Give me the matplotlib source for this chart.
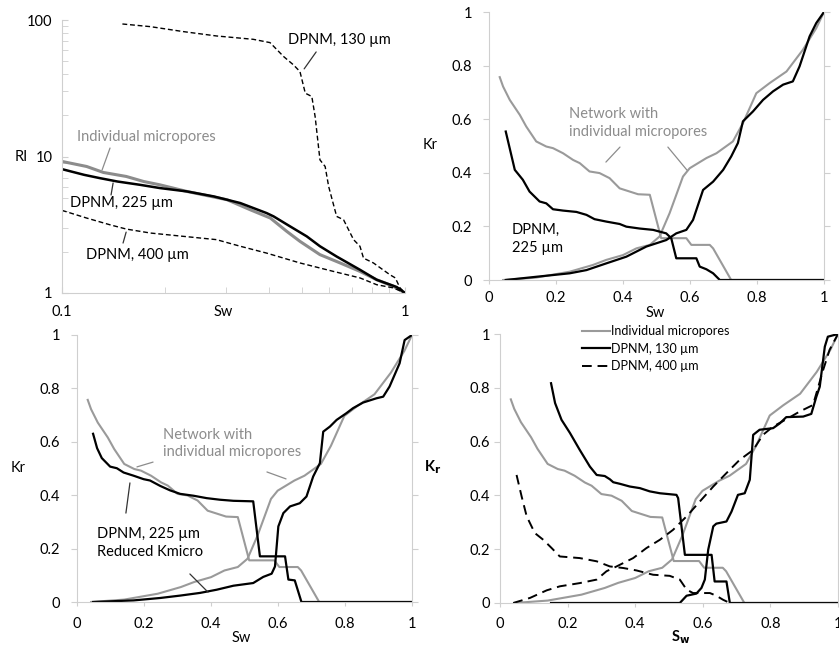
import numpy as np
import matplotlib.pyplot as plt
from matplotlib.ticker import FuncFormatter, LogLocator, NullFormatter

plt.rcParams['font.family'] = ['Lato', 'DejaVu Sans']
plt.rcParams['font.size'] = 10.5

GRAY = "#9a9a9a"
TXT_GRAY = "#8c8c8c"
SPINE = "#cfcfcf"

# ---- panel 1: resistivity index (log-log) ----
ri_sw_micro = [0.1, 0.118, 0.132, 0.154, 0.173, 0.193, 0.231, 0.303, 0.354, 0.405, 0.452, 0.494, 0.565, 0.647, 0.739, 0.827, 0.925, 1.0]
ri_micro = [9.2, 8.45, 7.64, 7.14, 6.56, 6.2, 5.55, 4.82, 4.07, 3.54, 2.83, 2.39, 1.91, 1.66, 1.44, 1.25, 1.12, 1.0]

ri_sw_225 = [0.1, 0.116, 0.129, 0.145, 0.169, 0.193, 0.231, 0.277, 0.331, 0.395, 0.414, 0.463, 0.517, 0.565, 0.632, 0.739, 0.827, 0.946, 1.0]
ri_225 = [8.08, 7.34, 6.94, 6.56, 6.2, 5.87, 5.55, 5.1, 4.56, 3.85, 3.64, 3.07, 2.6, 2.2, 1.85, 1.48, 1.25, 1.106, 1.0]

ri_sw_400 = [0.1, 0.118, 0.138, 0.154, 0.181, 0.226, 0.282, 0.331, 0.395, 0.494, 0.618, 0.739, 0.827, 0.925, 1.0]
ri_400 = [4.03, 3.54, 3.16, 2.94, 2.75, 2.6, 2.46, 2.2, 1.96, 1.66, 1.44, 1.29, 1.15, 1.09, 1.0]

ri_sw_130 = [0.150, 0.181, 0.226, 0.282, 0.361, 0.404, 0.443, 0.473, 0.494, 0.512, 0.535, 0.547, 0.565, 0.585, 0.599, 0.632, 0.662, 0.708, 0.739, 0.757, 0.809, 0.904, 0.937, 0.967, 1.0]
ri_130 = [93.5, 89.4, 82.2, 76.4, 72.2, 68.3, 53.9, 46.9, 41.9, 29.1, 27.5, 19.6, 9.45, 8.45, 6.03, 3.64, 3.44, 2.46, 2.2, 1.8, 1.66, 1.36, 1.29, 1.09, 1.0]

# ---- individual micropores Kr (shared by panels 2-4) ----
kro_sw_micro = [0.032, 0.042, 0.062, 0.092, 0.111, 0.141, 0.171, 0.191, 0.221, 0.251, 0.271, 0.300, 0.330, 0.360, 0.390, 0.420, 0.445, 0.480, 0.514, 0.589, 0.604, 0.659, 0.669, 0.723, 1.0]
kro_micro = [0.757, 0.722, 0.672, 0.616, 0.573, 0.517, 0.498, 0.492, 0.473, 0.448, 0.436, 0.405, 0.399, 0.380, 0.342, 0.330, 0.320, 0.318, 0.156, 0.156, 0.131, 0.131, 0.118, 0.0, 0.0]
krw_sw_micro = [0.042, 0.141, 0.241, 0.310, 0.350, 0.400, 0.440, 0.480, 0.509, 0.539, 0.579, 0.599, 0.649, 0.679, 0.728, 0.758, 0.798, 0.838, 0.888, 0.937, 0.977, 1.0]
krw_micro = [0.0, 0.009, 0.031, 0.056, 0.075, 0.093, 0.118, 0.131, 0.162, 0.249, 0.386, 0.417, 0.455, 0.473, 0.517, 0.585, 0.697, 0.735, 0.778, 0.859, 0.940, 1.0]

# ---- panel 2: DPNM 225 um ----
kro_sw_225 = [0.050, 0.077, 0.101, 0.121, 0.151, 0.171, 0.191, 0.221, 0.261, 0.291, 0.315, 0.350, 0.390, 0.410, 0.450, 0.490, 0.529, 0.544, 0.559, 0.619, 0.629, 0.649, 0.669, 0.689, 1.0]
kro_225 = [0.554, 0.411, 0.374, 0.330, 0.293, 0.286, 0.264, 0.259, 0.254, 0.243, 0.227, 0.218, 0.209, 0.199, 0.192, 0.187, 0.174, 0.156, 0.081, 0.081, 0.050, 0.040, 0.025, 0.0, 0.0]
krw_sw_225 = [0.050, 0.141, 0.241, 0.291, 0.350, 0.410, 0.470, 0.529, 0.559, 0.589, 0.609, 0.639, 0.669, 0.699, 0.723, 0.743, 0.758, 0.788, 0.818, 0.848, 0.878, 0.907, 0.927, 0.957, 0.977, 1.0]
krw_225 = [0.0, 0.012, 0.025, 0.037, 0.062, 0.087, 0.125, 0.149, 0.174, 0.187, 0.224, 0.336, 0.367, 0.411, 0.461, 0.511, 0.592, 0.629, 0.672, 0.704, 0.729, 0.741, 0.797, 0.909, 0.959, 1.0]

# ---- panel 3: DPNM 225 um, reduced Kmicro ----
kro_sw_red = [0.048, 0.060, 0.074, 0.099, 0.119, 0.139, 0.169, 0.199, 0.218, 0.248, 0.278, 0.308, 0.348, 0.387, 0.427, 0.467, 0.526, 0.546, 0.621, 0.631, 0.650, 0.670, 1.0]
kro_red = [0.630, 0.576, 0.539, 0.507, 0.501, 0.485, 0.473, 0.460, 0.455, 0.435, 0.418, 0.405, 0.398, 0.389, 0.383, 0.379, 0.377, 0.171, 0.171, 0.084, 0.081, 0.0, 0.0]
krw_sw_red = [0.048, 0.169, 0.248, 0.308, 0.367, 0.417, 0.467, 0.526, 0.556, 0.581, 0.591, 0.601, 0.616, 0.636, 0.665, 0.685, 0.705, 0.725, 0.735, 0.755, 0.775, 0.804, 0.824, 0.854, 0.894, 0.914, 0.933, 0.963, 0.978, 1.0]
krw_red = [0.0, 0.006, 0.015, 0.024, 0.034, 0.046, 0.061, 0.071, 0.094, 0.106, 0.133, 0.283, 0.333, 0.358, 0.370, 0.395, 0.470, 0.520, 0.638, 0.657, 0.682, 0.707, 0.726, 0.747, 0.763, 0.769, 0.807, 0.894, 0.981, 1.0]

# ---- panel 4: DPNM 130 um and 400 um ----
kro_sw_130 = [0.151, 0.163, 0.182, 0.207, 0.236, 0.266, 0.286, 0.310, 0.325, 0.335, 0.355, 0.384, 0.414, 0.443, 0.473, 0.522, 0.527, 0.547, 0.626, 0.635, 0.670, 0.680, 1.0]
kro_130 = [0.817, 0.743, 0.681, 0.632, 0.569, 0.507, 0.476, 0.472, 0.460, 0.449, 0.443, 0.433, 0.427, 0.415, 0.408, 0.402, 0.390, 0.179, 0.179, 0.080, 0.080, 0.0, 0.0]
krw_sw_130 = [0.151, 0.532, 0.552, 0.581, 0.596, 0.606, 0.616, 0.631, 0.640, 0.670, 0.685, 0.704, 0.724, 0.739, 0.749, 0.768, 0.808, 0.828, 0.847, 0.897, 0.921, 0.936, 0.946, 0.961, 0.970, 1.0]
krw_130 = [0.0, 0.0, 0.027, 0.035, 0.056, 0.087, 0.198, 0.285, 0.295, 0.303, 0.340, 0.402, 0.408, 0.458, 0.625, 0.644, 0.650, 0.668, 0.691, 0.693, 0.703, 0.767, 0.804, 0.953, 0.990, 1.0]

kro_sw_400 = [0.049, 0.064, 0.079, 0.103, 0.128, 0.153, 0.177, 0.236, 0.286, 0.325, 0.365, 0.404, 0.453, 0.502, 0.532, 0.552, 0.571, 0.621, 0.640, 0.660, 0.680]
kro_400 = [0.476, 0.396, 0.322, 0.260, 0.235, 0.204, 0.173, 0.167, 0.155, 0.136, 0.130, 0.121, 0.105, 0.101, 0.087, 0.050, 0.037, 0.037, 0.027, 0.012, 0.0]
krw_sw_400 = [0.039, 0.089, 0.138, 0.177, 0.236, 0.286, 0.315, 0.345, 0.394, 0.433, 0.473, 0.512, 0.552, 0.591, 0.631, 0.670, 0.709, 0.749, 0.778, 0.808, 0.847, 0.887, 0.926, 0.956, 0.975, 1.0]
krw_400 = [0.0, 0.019, 0.047, 0.062, 0.074, 0.087, 0.118, 0.136, 0.167, 0.204, 0.235, 0.272, 0.322, 0.377, 0.433, 0.483, 0.532, 0.569, 0.625, 0.656, 0.683, 0.712, 0.736, 0.866, 0.941, 1.0]

W, H = 839, 646
fig = plt.figure(figsize=(W / 100, H / 100), dpi=100)


def add_ax(x0, x1, ytop, ybot):
    return fig.add_axes([x0 / W, 1 - ybot / H, (x1 - x0) / W, (ybot - ytop) / H])


def lead(ax, p0, p1, color="#333333"):
    ax.annotate("", xy=p1, xytext=p0, xycoords="axes fraction", textcoords="axes fraction",
                arrowprops=dict(arrowstyle="-", color=color, lw=0.9, shrinkA=0, shrinkB=0))


fmt = FuncFormatter(lambda v, p: "%g" % v)


def style_kr(ax, ypad, xpad, right=True):
    ax.set_xlim(0, 1)
    ax.set_ylim(0, 1)
    ax.set_xticks(np.arange(0, 1.01, 0.2))
    ax.set_yticks(np.arange(0, 1.01, 0.2))
    ax.xaxis.set_major_formatter(fmt)
    ax.yaxis.set_major_formatter(fmt)
    ax.spines["top"].set_visible(False)
    ax.spines["right"].set_visible(right)
    for s in ["left", "bottom", "right"]:
        ax.spines[s].set_color(SPINE)
    ax.tick_params(axis="y", which="both", direction="out", length=4, color=SPINE, pad=ypad,
                   right=right, labelright=False)
    ax.tick_params(axis="x", direction="out", length=3, color=SPINE, pad=xpad)


# panel 1
ax1 = add_ax(62, 405, 20, 293)
ax1.plot(ri_sw_micro, ri_micro, color="#8c8c8c", lw=2.2)
ax1.plot(ri_sw_225, ri_225, color="black", lw=1.8)
ax1.plot(ri_sw_400, ri_400, color="black", lw=1.0, ls=(0, (3.5, 2)))
ax1.plot(ri_sw_130, ri_130, color="black", lw=1.0, ls=(0, (3.5, 2)))
ax1.set_xscale("log")
ax1.set_yscale("log")
ax1.set_xlim(0.1, 1)
ax1.set_ylim(1, 100)
ax1.set_xticks([0.1, 1])
ax1.set_yticks([1, 10, 100])
ax1.xaxis.set_major_formatter(fmt)
ax1.yaxis.set_major_formatter(fmt)
ax1.xaxis.set_minor_locator(LogLocator(base=10, subs=np.arange(2, 10)))
ax1.yaxis.set_minor_locator(LogLocator(base=10, subs=np.arange(2, 10)))
ax1.xaxis.set_minor_formatter(NullFormatter())
ax1.yaxis.set_minor_formatter(NullFormatter())
for s in ["top", "right"]:
    ax1.spines[s].set_visible(False)
for s in ["left", "bottom"]:
    ax1.spines[s].set_color(SPINE)
ax1.tick_params(which="both", direction="in", length=4, color=SPINE)
ax1.tick_params(axis="y", which="major", pad=7)
ax1.tick_params(axis="x", which="major", pad=9)
ax1.text(-0.118, 0.498, "RI", transform=ax1.transAxes, ha="center", va="center")
ax1.text(0.469, -0.07, "Sw", transform=ax1.transAxes, ha="center", va="center")
ax1.text(0.659, 0.927, "DPNM, 130 µm", transform=ax1.transAxes, va="center")
lead(ax1, (0.741, 0.883), (0.706, 0.821))
ax1.text(0.044, 0.571, "Individual micropores", transform=ax1.transAxes, va="center", color=TXT_GRAY)
lead(ax1, (0.140, 0.531), (0.117, 0.451), TXT_GRAY)
ax1.text(0.023, 0.330, "DPNM, 225 µm", transform=ax1.transAxes, va="center")
lead(ax1, (0.149, 0.403), (0.143, 0.359))
ax1.text(0.070, 0.139, "DPNM, 400 µm", transform=ax1.transAxes, va="center")
lead(ax1, (0.187, 0.223), (0.178, 0.183))

# panel 2
ax2 = add_ax(489, 824, 12, 280)
ax2.plot(kro_sw_micro, kro_micro, color=GRAY, lw=1.5)
ax2.plot(krw_sw_micro, krw_micro, color=GRAY, lw=1.5)
ax2.plot(kro_sw_225, kro_225, color="black", lw=1.6)
ax2.plot(krw_sw_225, krw_225, color="black", lw=1.6)
style_kr(ax2, 8, 5)
ax2.text(-0.176, 0.504, "Kr", transform=ax2.transAxes, ha="center", va="center")
ax2.text(0.496, -0.123, "Sw", transform=ax2.transAxes, ha="center", va="center")
ax2.text(0.239, 0.586, "Network with\nindividual micropores", transform=ax2.transAxes,
         va="center", color=TXT_GRAY, linespacing=1.3)
lead(ax2, (0.391, 0.496), (0.349, 0.440), TXT_GRAY)
lead(ax2, (0.534, 0.496), (0.591, 0.410), TXT_GRAY)
ax2.text(0.069, 0.153, "DPNM,\n225 µm", transform=ax2.transAxes, va="center", linespacing=1.3)

# panel 3
ax3 = add_ax(77, 412, 335, 602)
ax3.plot(kro_sw_micro, kro_micro, color=GRAY, lw=1.5)
ax3.plot(krw_sw_micro, krw_micro, color=GRAY, lw=1.5)
ax3.plot(kro_sw_red, kro_red, color="black", lw=1.6)
ax3.plot(krw_sw_red, krw_red, color="black", lw=1.6)
style_kr(ax3, 8, 8)
ax3.text(-0.176, 0.502, "Kr", transform=ax3.transAxes, ha="center", va="center")
ax3.text(0.49, -0.135, "Sw", transform=ax3.transAxes, ha="center", va="center")
ax3.text(0.257, 0.594, "Network with\nindividual micropores", transform=ax3.transAxes,
         va="center", color=TXT_GRAY, linespacing=1.3)
lead(ax3, (0.227, 0.524), (0.179, 0.506), TXT_GRAY)
lead(ax3, (0.567, 0.487), (0.624, 0.461), TXT_GRAY)
ax3.text(0.060, 0.221, "DPNM, 225 µm\nReduced Kmicro", transform=ax3.transAxes, va="center", linespacing=1.3)
lead(ax3, (0.158, 0.446), (0.146, 0.333))
lead(ax3, (0.337, 0.105), (0.391, 0.037))

# panel 4
ax4 = add_ax(500, 838, 334, 603)
ax4.plot(kro_sw_micro, kro_micro, color=GRAY, lw=1.5, label="Individual micropores")
ax4.plot(krw_sw_micro, krw_micro, color=GRAY, lw=1.5)
ax4.plot(kro_sw_130, kro_130, color="black", lw=1.6, label="DPNM, 130 µm")
ax4.plot(krw_sw_130, krw_130, color="black", lw=1.6)
ax4.plot(kro_sw_400, kro_400, color="black", lw=1.4, ls=(0, (5, 3)), label="DPNM, 400 µm")
ax4.plot(krw_sw_400, krw_400, color="black", lw=1.4, ls=(0, (5, 3)))
style_kr(ax4, 3, 7)
ax4.text(-0.198, 0.506, "K$_\\mathbf{r}$", transform=ax4.transAxes, ha="center", va="center", fontweight="bold")
ax4.text(0.533, -0.126, "S$_\\mathbf{w}$", transform=ax4.transAxes, ha="center", va="center", fontweight="bold")
ax4.legend(loc="upper left", bbox_to_anchor=(582 / W, 1 - 325 / H), bbox_transform=fig.transFigure,
           frameon=False, fontsize=9, handlelength=2.2, handletextpad=0.15, labelspacing=0.45,
           borderpad=0, borderaxespad=0)

fig.savefig("out.png", dpi=100)
